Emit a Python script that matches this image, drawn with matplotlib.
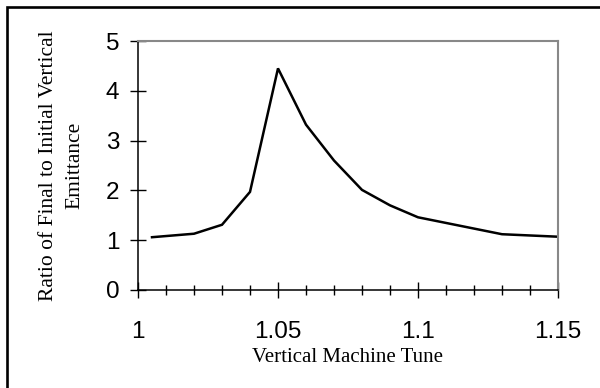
import numpy as np
import matplotlib
matplotlib.use("Agg")
import matplotlib.pyplot as plt
from matplotlib.patches import Rectangle
from matplotlib.ticker import MultipleLocator

# values
tune = [1.005, 1.02, 1.03, 1.04, 1.05, 1.06, 1.07, 1.08, 1.09, 1.10, 1.13, 1.15]
ratio = [1.06, 1.13, 1.31, 1.97, 4.45, 3.32, 2.60, 2.01, 1.70, 1.46, 1.12, 1.07]
x_ticks = [1.0, 1.05, 1.1, 1.15]
x_tick_labels = ["1", "1.05", "1.1", "1.15"]
y_ticks = [0, 1, 2, 3, 4, 5]

fig = plt.figure(figsize=(6, 3.88), dpi=100)
ax = fig.add_axes([138 / 600, 98 / 388, 420 / 600, 249 / 388])

ax.plot(tune, ratio, color="black", lw=1.8, solid_joinstyle="miter")

ax.set_xlim(1.0, 1.15)
ax.set_ylim(0, 5)
ax.set_xticks(x_ticks)
ax.set_xticklabels(x_tick_labels)
ax.xaxis.set_minor_locator(MultipleLocator(0.01))
ax.set_yticks(y_ticks)

for lab in ax.get_xticklabels() + ax.get_yticklabels():
    lab.set_fontfamily("Liberation Sans")
    lab.set_fontsize(17.5)

ax.tick_params(axis="both", which="major", direction="inout", length=11,
               width=1, color="black")
ax.tick_params(axis="x", which="major", pad=16.5)
ax.tick_params(axis="y", which="major", pad=8)
ax.tick_params(axis="x", which="minor", direction="inout", length=7, width=1)

for side in ["left", "bottom"]:
    ax.spines[side].set_color("black")
    ax.spines[side].set_linewidth(1.1)
for side in ["top", "right"]:
    ax.spines[side].set_color("#888888")
    ax.spines[side].set_linewidth(1.5)

ax.set_xlabel("Vertical Machine Tune", family="Liberation Serif", fontsize=15)
ax.xaxis.label.set_va("center")
ax.xaxis.set_label_coords(0.5, -67 / 249)

ax.set_ylabel("Ratio of Final to Initial Vertical\nEmittance",
              family="Liberation Serif", fontsize=15.5, linespacing=1.5,
              multialignment="center")
ax.yaxis.label.set_va("center")
ax.yaxis.set_label_coords(-(138 - 62) / 420, 0.5)

# outer frame, right and bottom edges fall outside the image
frame = Rectangle((6.5 / 600, -0.2), 1.2, 1.2 - 6.5 / 388,
                  transform=fig.transFigure, fill=False, ec="black", lw=1.9,
                  clip_on=False)
fig.patches.append(frame)

fig.savefig("out.png", dpi=100)
